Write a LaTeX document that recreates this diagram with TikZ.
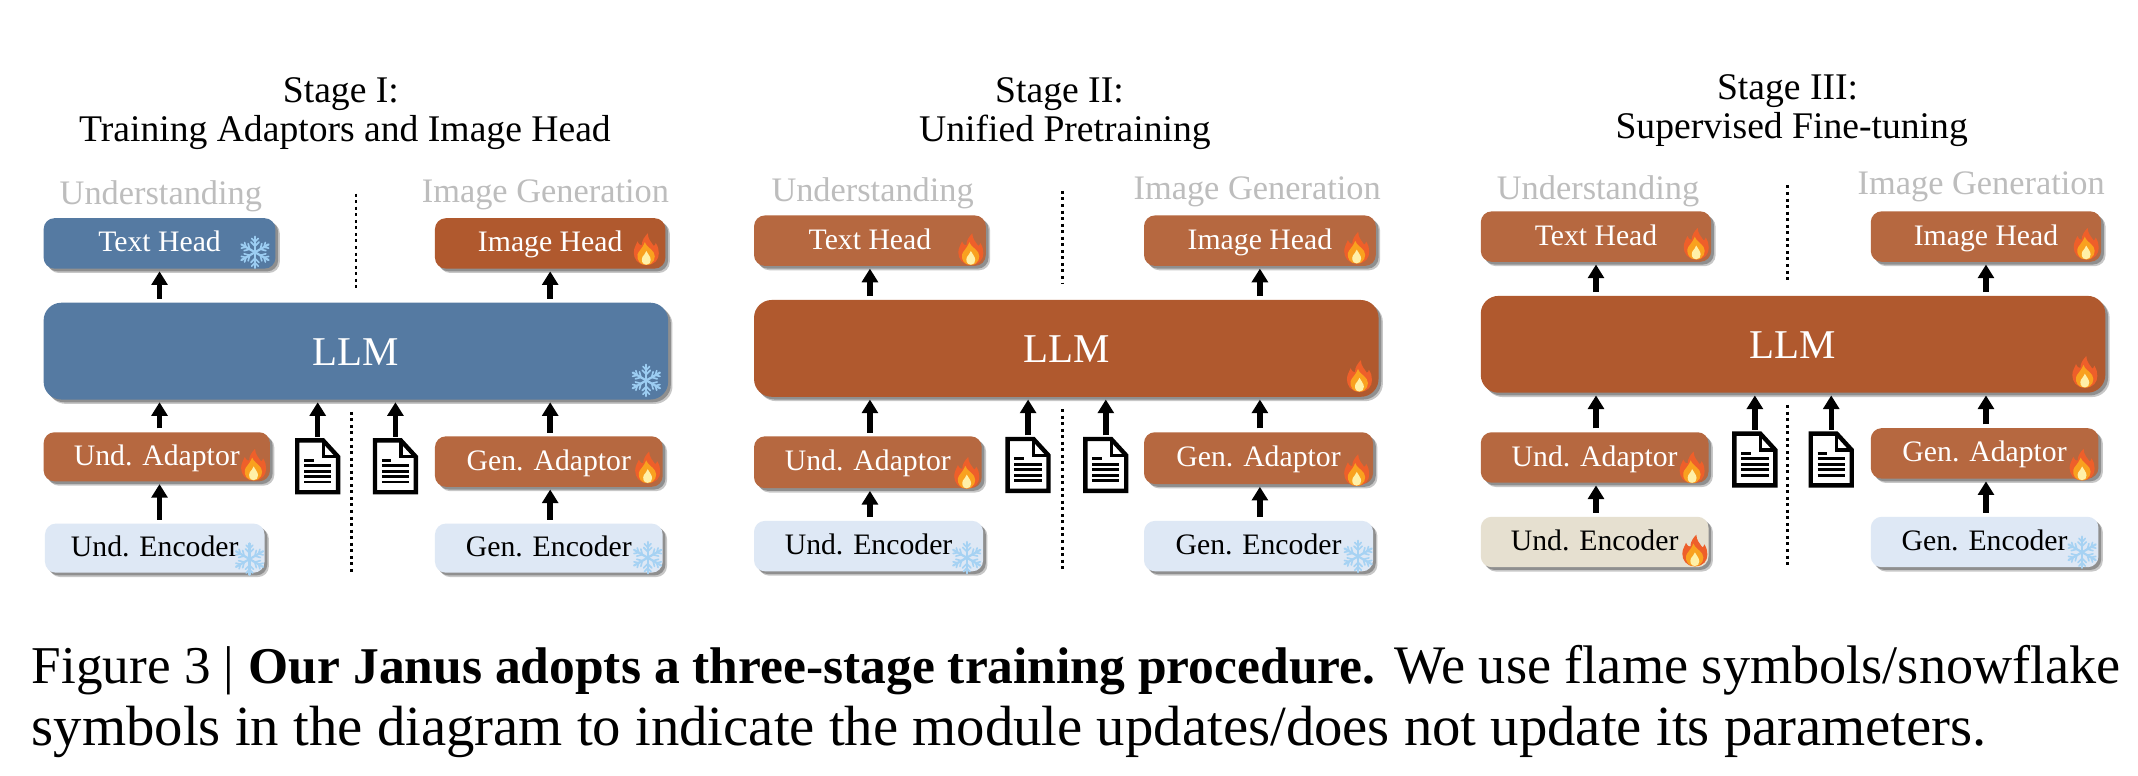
\documentclass[tikz,border=0pt]{standalone}
\usepackage{fontspec}
\setmainfont{Liberation Serif}
\usetikzlibrary{arrows.meta,shadows}
\definecolor{frozen}{HTML}{557AA2}
\definecolor{llmhot}{HTML}{B0592E}
\definecolor{modhot}{HTML}{B66840}
\definecolor{encfrozen}{HTML}{DEE8F5}
\definecolor{enchot}{HTML}{E6E0D0}
\definecolor{headgrey}{HTML}{BDBDBD}
\definecolor{snowc}{HTML}{9CCDF2}
\definecolor{flameout}{HTML}{EE5F2A}
\definecolor{flamemid}{HTML}{F9A11F}
\definecolor{flamein}{HTML}{FFF0A8}
\tikzset{
  x=.5pt,y=-.5pt,
  modbox/.style={rectangle,rounded corners=4pt,inner sep=0pt,text height=6.3pt,text depth=0pt,font=\fontsize{10.9}{13}\selectfont,
    drop shadow={shadow xshift=1.6pt,shadow yshift=-1.6pt,opacity=.22,fill=black},
    drop shadow={shadow xshift=1pt,shadow yshift=-1pt,opacity=.28,fill=black}},
  bluebox/.style={modbox,fill=frozen,text=white},
  hotbox/.style={modbox,fill=modhot,text=white},
  encbox/.style={modbox,fill=encfrozen,text=black},
  beigebox/.style={modbox,fill=enchot,text=black},
  llmblue/.style={bluebox,rounded corners=6.5pt,text height=10.5pt,font=\fontsize{15}{18}\selectfont},
  llmred/.style={modbox,fill=llmhot,text=white,rounded corners=6.5pt,text height=10.5pt,font=\fontsize{15}{18}\selectfont},
  imghot/.style={modbox,fill=llmhot,text=white},
  arr/.style={draw=black,line width=2pt,-{Triangle[length=5pt,width=5.8pt]},shorten >=.8pt,shorten <=1.2pt},
  divider/.style={draw=black,line width=1pt,dash pattern=on 1.1pt off 1.3pt},
  titletext/.style={inner sep=0pt,font=\fontsize{13.8}{15}\selectfont,text=black},
  sidetext/.style={inner sep=0pt,font=\fontsize{12.6}{14}\selectfont,text=headgrey},
  captext/.style={inner sep=0pt,anchor=base west,font=\fontsize{20.8}{22}\selectfont,text=black},
  docbox/.style={rectangle,inner sep=0pt,minimum width=15pt,minimum height=19pt},
  flame/.pic={
    \begin{scope}[scale=1.08]
    \fill[flameout] (0,10.5) .. controls (-6,10.5) and (-8.5,6) .. (-8.5,2)
      .. controls (-8.5,-1) and (-7,-3) .. (-6,-5.5) .. controls (-5,-3.5) and (-4,-2.5) .. (-3,-3)
      .. controls (-3.2,-6) and (-1,-9) .. (1,-11) .. controls (1,-7) and (3.5,-5) .. (5,-2.5)
      .. controls (5.8,-2.5) and (6.2,-3.5) .. (6.4,-4.5) .. controls (8,-2) and (8.5,0) .. (8.5,2.5)
      .. controls (8.5,6.5) and (6,10.5) .. (0,10.5) -- cycle;
    \fill[flamemid] (0,10.5) .. controls (-4.5,10.5) and (-6.5,7) .. (-6,3.5)
      .. controls (-5.5,1) and (-3,0) .. (-1,-5) .. controls (0,-2) and (3,-1) .. (5,2)
      .. controls (7,5) and (5,10.5) .. (0,10.5) -- cycle;
    \fill[flamein] (0,10.3) .. controls (-3,10.3) and (-3.6,7) .. (-2.6,5)
      .. controls (-1.8,3.5) and (-.5,3) .. (0,1) .. controls (1,3) and (3,5) .. (3,7)
      .. controls (3,9) and (2,10.3) .. (0,10.3) -- cycle;
    \end{scope}
  },
  snow/.pic={
    \foreach \a in {30,90,...,330}{
      \begin{scope}[rotate=\a]
        \draw[snowc,line width=.8pt,line cap=round] (0,0) -- (11.5,0);
        \draw[snowc,line width=.6pt,line cap=round] (4.5,0) -- (7.5,3) (4.5,0) -- (7.5,-3) (7.6,0) -- (10.2,2.4) (7.6,0) -- (10.2,-2.4);
      \end{scope}
    }
  },
  pagedoc/.pic={
    \fill[white] (0,0) -- (19,0) -- (30,12) -- (30,38) -- (0,38) -- cycle;
    \draw[black,line width=1.6pt,line join=miter] (0,0) -- (19,0) -- (30,12) -- (30,38) -- (0,38) -- cycle;
    \draw[black,line width=1.2pt] (19,0) -- (19,12) -- (30,12);
    \draw[black,line width=1.05pt] (5,14.5) -- (12,14.5) (5,18.5) -- (25,18.5) (5,22.5) -- (25,22.5) (5,26.5) -- (25,26.5) (5,30.5) -- (25,30.5);
  },
}
\newcommand{\mybox}[7]{\node[#2,minimum width={(#5-#3)*.5pt},minimum height={(#6-#4)*.5pt}] (#1) at ({(#3+#5)/2},{(#4+#6)/2}) {#7};}
\newcommand{\mydoc}[3]{\node[docbox] (#1) at ({#2+15},{#3+19}) {}; \pic at (#2,#3) {pagedoc};}
\newcommand{\palesnow}[2]{\begin{scope}\colorlet{snowc}{snowc!90!white}\pic at (#1,#2) {snow};\end{scope}}
\begin{document}
\begin{tikzpicture}
\fill[white] (0,0) rectangle (1568,569);
\path[use as bounding box] (0,0) rectangle (1568,569);

% ---------- Stage I
\node[titletext] (s1a) at (250,69) {Stage I:};
\node[titletext] (s1b) at (253,97) {Training Adaptors and Image Head};
\node[sidetext] (s1u) at (118,144) {Understanding};
\node[sidetext] (s1g) at (400,143) {Image Generation};
\mybox{ta}{bluebox}{32}{160}{202}{197}{Text Head}
\mybox{ia}{imghot}{319}{160}{488}{197}{Image Head}
\mybox{la}{llmblue}{32}{222}{490}{293}{LLM}
\mybox{ua}{hotbox}{32}{317}{198}{353}{Und. Adaptor}
\mybox{ga}{hotbox}{319}{320}{486}{357}{Gen. Adaptor}
\mybox{ea}{encbox}{33}{384}{194}{420}{Und. Encoder}
\mybox{fa}{encbox}{319}{384}{486}{420}{Gen. Encoder}
\mydoc{da}{218}{323}
\mydoc{db}{275}{323}
\coordinate (qa1) at (261,142); \coordinate (qa2) at (261,211);
\coordinate (qa3) at (258,302); \coordinate (qa4) at (258,420);
\draw[divider] (qa1) -- (qa2);
\draw[divider] (qa3) -- (qa4);
\draw[arr] (ta.south |- la.north) -- (ta.south);
\draw[arr] (ia.south |- la.north) -- (ia.south);
\draw[arr] (ua.north -| ta.south) -- (la.south -| ta.south);
\draw[arr] (ga.north -| ia.south) -- (la.south -| ia.south);
\draw[arr] (ea.north -| ta.south) -- (ua.south -| ta.south);
\draw[arr] (fa.north -| ia.south) -- (ga.south -| ia.south);
\draw[arr] (da.north) -- (da.north |- la.south);
\draw[arr] (db.north) -- (db.north |- la.south);
\pic at (187,185) {snow};
\pic at (474,183) {flame};
\pic at (474,279) {snow};
\pic at (186,341) {flame};
\pic at (475,343) {flame};
\palesnow{183}{410}
\palesnow{475}{409}

% ---------- Stage II
\node[titletext] (s2a) at (777,69) {Stage II:};
\node[titletext] (s2b) at (781,97) {Unified Pretraining};
\node[sidetext] (s2u) at (640,142) {Understanding};
\node[sidetext] (s2g) at (922,141) {Image Generation};
\mybox{tb}{hotbox}{553}{158}{723}{195}{Text Head}
\mybox{ib}{hotbox}{839}{158}{1009}{195}{Image Head}
\mybox{lb}{llmred}{553}{220}{1011}{291}{LLM}
\mybox{ub}{hotbox}{553}{320}{720}{358}{Und. Adaptor}
\mybox{gb}{hotbox}{839}{317}{1007}{355}{Gen. Adaptor}
\mybox{eb}{encbox}{553}{382}{721}{419}{Und. Encoder}
\mybox{fb}{encbox}{839}{382}{1007}{419}{Gen. Encoder}
\mydoc{dc}{739}{322}
\mydoc{dd}{796}{322}
\coordinate (qb1) at (779,140); \coordinate (qb2) at (779,208);
\coordinate (qb3) at (779,300); \coordinate (qb4) at (779,418);
\draw[divider] (qb1) -- (qb2);
\draw[divider] (qb3) -- (qb4);
\draw[arr] (tb.south |- lb.north) -- (tb.south);
\draw[arr] (ib.south |- lb.north) -- (ib.south);
\draw[arr] (ub.north -| tb.south) -- (lb.south -| tb.south);
\draw[arr] (gb.north -| ib.south) -- (lb.south -| ib.south);
\draw[arr] (eb.north -| tb.south) -- (ub.south -| tb.south);
\draw[arr] (fb.north -| ib.south) -- (gb.south -| ib.south);
\draw[arr] (dc.north) -- (dc.north |- lb.south);
\draw[arr] (dd.north) -- (dd.north |- lb.south);
\pic at (712,183) {flame};
\pic at (995,182) {flame};
\pic at (997,276) {flame};
\pic at (709,347) {flame};
\pic at (995,345) {flame};
\palesnow{709}{409}
\palesnow{996}{408}

% ---------- Stage III
\node[titletext] (s3a) at (1311,67) {Stage III:};
\node[titletext] (s3b) at (1314,95) {Supervised Fine-tuning};
\node[sidetext] (s3u) at (1172,140) {Understanding};
\node[sidetext] (s3g) at (1453,137) {Image Generation};
\mybox{tc}{hotbox}{1086}{155}{1255}{192}{Text Head}
\mybox{ic}{hotbox}{1372}{155}{1541}{192}{Image Head}
\mybox{lc}{llmred}{1086}{217}{1544}{288}{LLM}
\mybox{uc}{hotbox}{1086}{317}{1253}{354}{Und. Adaptor}
\mybox{gc}{hotbox}{1372}{314}{1539}{351}{Gen. Adaptor}
\mybox{ec}{beigebox}{1086}{379}{1253}{416}{Und. Encoder}
\mybox{fc}{encbox}{1372}{379}{1539}{416}{Gen. Encoder}
\mydoc{de}{1272}{318}
\mydoc{df}{1328}{318}
\coordinate (qc1) at (1311,136); \coordinate (qc2) at (1311,205);
\coordinate (qc3) at (1311,297); \coordinate (qc4) at (1311,414);
\draw[divider] (qc1) -- (qc2);
\draw[divider] (qc3) -- (qc4);
\draw[arr] (tc.south |- lc.north) -- (tc.south);
\draw[arr] (ic.south |- lc.north) -- (ic.south);
\draw[arr] (uc.north -| tc.south) -- (lc.south -| tc.south);
\draw[arr] (gc.north -| ic.south) -- (lc.south -| ic.south);
\draw[arr] (ec.north -| tc.south) -- (uc.south -| tc.south);
\draw[arr] (fc.north -| ic.south) -- (gc.south -| ic.south);
\draw[arr] (de.north) -- (de.north |- lc.south);
\draw[arr] (df.north) -- (df.north |- lc.south);
\pic at (1244,179) {flame};
\pic at (1530,179) {flame};
\pic at (1529,273) {flame};
\pic at (1241,343) {flame};
\pic at (1527,341) {flame};
\pic at (1243,404) {flame};
\palesnow{1527}{405}

% ---------- Caption
\node[captext] (cap1) at (23,501) {{\fontsize{19.5}{22}\selectfont Figure 3 |} {\fontsize{18.9}{22}\selectfont\bfseries Our Janus adopts a three-stage training procedure.} {\fontsize{19.9}{22}\selectfont We use flame symbols/snowflake}};
\node[captext] (cap2) at (23,547) {symbols in the diagram to indicate the module updates/does not update its parameters.};
\end{tikzpicture}
\end{document}
